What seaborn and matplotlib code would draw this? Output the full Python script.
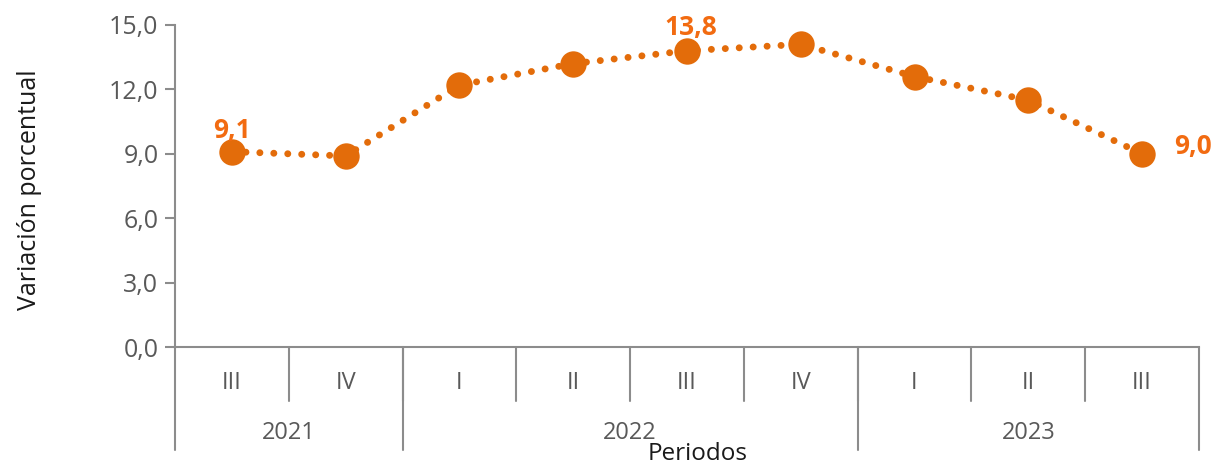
import numpy as np
import pandas as pd
import matplotlib
matplotlib.use("Agg")
import matplotlib.pyplot as plt
import matplotlib.transforms as mtransforms
import seaborn as sns

# -------- data --------
quarters = ["III", "IV", "I", "II", "III", "IV", "I", "II", "III"]
years = ["2021", "2022", "2023"]
quarters_per_year = [2, 4, 3]
variacion = [9.1, 8.9, 12.2, 13.2, 13.8, 14.1, 12.6, 11.5, 9.0]
labeled = {0: "9,1", 4: "13,8", 8: "9,0"}

df = pd.DataFrame({"pos": np.arange(len(variacion)), "valor": variacion})

# -------- style --------
sns.set_style("white")
plt.rcParams["font.family"] = ["Open Sans", "DejaVu Sans"]
orange = "#E36C0A"
label_orange = "#F26B11"
gray = "#8C8C8C"
text_gray = "#595959"

fig = plt.figure(figsize=(12.14, 4.68), dpi=100)
ax = fig.add_axes([0.1442, 0.2585, 0.8434, 0.6881])

sns.lineplot(data=df, x="pos", y="valor", ax=ax, color=orange, lw=5,
             linestyle=(0, (0.01, 2.0)), dash_capstyle="round",
             marker="o", markersize=19, markeredgewidth=0, zorder=3)

ax.set_xlim(-0.5, len(variacion) - 0.5)
ax.set_ylim(0, 15)
ax.set_yticks(np.arange(0, 15.1, 3))
ax.set_yticklabels([f"{v:.1f}".replace(".", ",") for v in np.arange(0, 15.1, 3)])
ax.tick_params(axis="y", length=7, width=1.5, color=gray, labelsize=18,
               labelcolor=text_gray, pad=5, left=True)
ax.set_xticks([])
ax.set_xlabel("")
ax.set_ylabel("")

for s in ["top", "right"]:
    ax.spines[s].set_visible(False)
for s in ["left", "bottom"]:
    ax.spines[s].set_color(gray)
    ax.spines[s].set_linewidth(1.5)

# -------- category axis (quarters + years) --------
trans = mtransforms.blended_transform_factory(ax.transData, ax.transAxes)
for i, q in enumerate(quarters):
    ax.text(i, -0.112, q, transform=trans, ha="center", va="center",
            fontsize=17, color=text_gray)
    if i > 0:
        ax.plot([i - 0.5, i - 0.5], [0, -0.168], transform=trans, color=gray,
                lw=1.5, clip_on=False)

start = 0
bounds = [-0.5]
for y, n in zip(years, quarters_per_year):
    center = start + (n - 1) / 2
    ax.text(center, -0.267, y, transform=trans, ha="center", va="center",
            fontsize=17, color=text_gray)
    start += n
    bounds.append(start - 0.5)
for b in bounds:
    ax.plot([b, b], [0, -0.32], transform=trans, color=gray, lw=1.5,
            clip_on=False)

ax.text(0.51, -0.332, "Periodos", transform=ax.transAxes, ha="center",
        va="center", fontsize=17.5, color="#1a1a1a")
fig.text(0.024, 0.595, "Variación porcentual",
         rotation=90, ha="center", va="center", fontsize=18, color="#1a1a1a")

# -------- data labels --------
offsets = {0: (0, 15), 4: (3, 17), 8: (37, 5)}
for i, txt in labeled.items():
    ax.annotate(txt, (i, variacion[i]), xytext=offsets[i],
                textcoords="offset points", ha="center", va="center",
                fontsize=19, fontweight="bold", color=label_orange)

fig.savefig("out.png", dpi=100)
